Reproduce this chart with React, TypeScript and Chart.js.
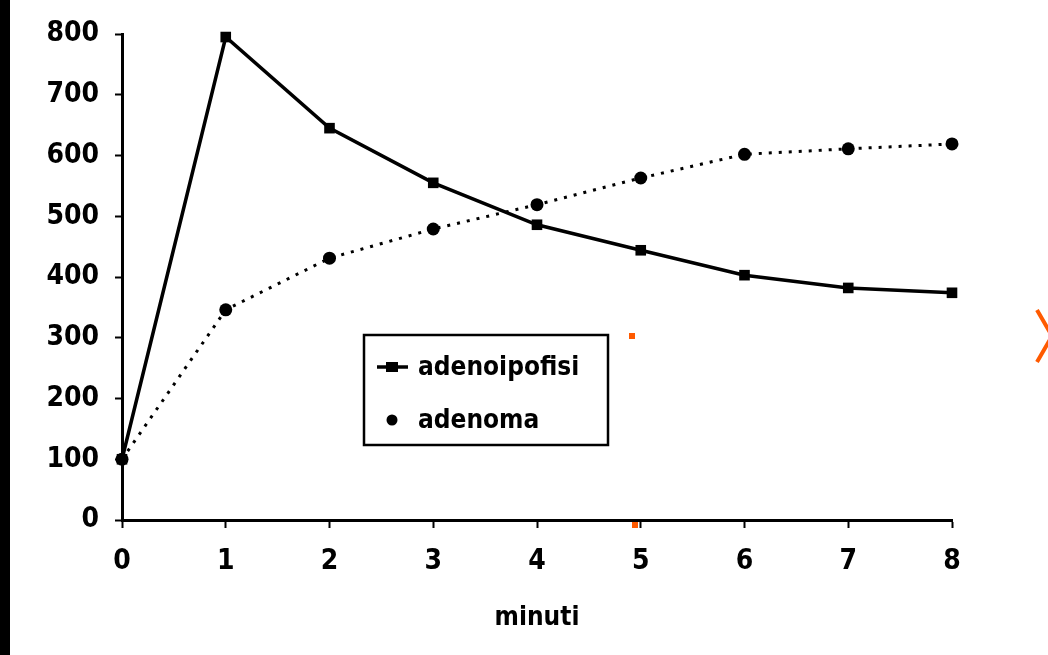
import React, { useEffect, useRef } from "react";
import { Chart, registerables } from "chart.js";

Chart.register(...registerables);

// ---- data ----
const categories = ["0", "1", "2", "3", "4", "5", "6", "7", "8"];
const adenoipofisiValues = [100, 795, 645, 555, 486, 444, 403, 382, 374];
const adenomaValues = [100, 346, 431, 479, 519, 563, 602, 611, 619];
const seriesLabels = ["adenoipofisi", "adenoma"];
const xAxisTitle = "minuti";
const yMin = 0;
const yMax = 800;
const yStep = 100;

const FONT = "'DejaVu Sans Condensed', 'Liberation Sans', sans-serif";

const frameDecor = {
  id: "frameDecor",
  beforeDraw(chart: any) {
    const ctx = chart.ctx;
    ctx.save();
    ctx.fillStyle = "#ffffff";
    ctx.fillRect(0, 0, chart.width, chart.height);
    ctx.fillStyle = "#000000";
    ctx.fillRect(0, 0, 10, chart.height);
    ctx.restore();
  },
  afterDraw(chart: any) {
    const ctx = chart.ctx;
    ctx.save();
    ctx.fillStyle = "#ff5a00";
    ctx.fillRect(629, 333, 6, 6);
    ctx.fillRect(632, 522, 6, 6);
    ctx.strokeStyle = "#ff5a00";
    ctx.lineWidth = 4;
    ctx.lineCap = "butt";
    ctx.beginPath();
    ctx.moveTo(1037, 310);
    ctx.lineTo(1052, 336);
    ctx.lineTo(1037, 362);
    ctx.stroke();
    ctx.restore();
  },
};

const boxLegend = {
  id: "boxLegend",
  afterDatasetsDraw(chart: any, _args: any, opts: any) {
    const ctx = chart.ctx;
    const { x, y, w, h } = opts;
    ctx.save();
    ctx.fillStyle = "#ffffff";
    ctx.fillRect(x, y, w, h);
    ctx.lineWidth = 2.5;
    ctx.strokeStyle = "#000000";
    ctx.strokeRect(x, y, w, h);
    ctx.font = "bold 26px " + FONT;
    ctx.textBaseline = "middle";
    ctx.textAlign = "left";
    chart.data.datasets.forEach((ds: any, i: number) => {
      const cy = y + 32 + i * 53;
      const mx = x + 28;
      ctx.fillStyle = "#000000";
      ctx.strokeStyle = "#000000";
      if (!ds.borderDash || ds.borderDash.length === 0) {
        ctx.lineWidth = 3.5;
        ctx.beginPath();
        ctx.moveTo(x + 13, cy);
        ctx.lineTo(x + 44, cy);
        ctx.stroke();
        ctx.fillRect(mx - 6, cy - 5, 12, 10);
      } else {
        ctx.beginPath();
        ctx.arc(mx, cy, 5.5, 0, Math.PI * 2);
        ctx.fill();
      }
      ctx.fillText(ds.label, x + 54, cy + 1);
    });
    ctx.restore();
  },
};

export default function App() {
  const ref = useRef<HTMLCanvasElement | null>(null);
  useEffect(() => {
    if (!ref.current) return;
    const chart = new Chart(ref.current, {
      type: "line",
      data: {
        labels: categories,
        datasets: [
          {
            label: seriesLabels[0],
            data: adenoipofisiValues,
            borderColor: "#000000",
            backgroundColor: "#000000",
            borderWidth: 3.5,
            pointStyle: "rect",
            pointRadius: 7.5,
            pointBorderWidth: 0,
            tension: 0,
            clip: false,
          },
          {
            label: seriesLabels[1],
            data: adenomaValues,
            borderColor: "#000000",
            backgroundColor: "#000000",
            borderWidth: 3,
            borderDash: [3, 7],
            pointStyle: "circle",
            pointRadius: 6.5,
            pointBorderWidth: 0,
            tension: 0,
            clip: false,
          },
        ],
      },
      options: {
        responsive: false,
        animation: false,
        layout: { padding: { left: 0, right: 96, top: 34, bottom: 0 } },
        plugins: {
          legend: { display: false },
          tooltip: { enabled: false },
          boxLegend: { x: 364, y: 335, w: 244, h: 110 },
        } as any,
        scales: {
          x: {
            type: "category",
            offset: false,
            grid: {
              drawOnChartArea: false,
              drawTicks: true,
              tickLength: 8,
              tickColor: "#000000",
              tickWidth: 2,
            },
            border: { display: true, color: "#000000", width: 3 },
            ticks: {
              color: "#000000",
              padding: 17,
              maxRotation: 0,
              font: { family: FONT, size: 28, weight: "bold" },
            },
            title: {
              display: true,
              text: xAxisTitle,
              color: "#000000",
              font: { family: FONT, size: 26, weight: "bold" },
              padding: { top: 0, bottom: 21 },
            },
            afterFit(scale: any) {
              scale.height = 135;
            },
          },
          y: {
            type: "linear",
            min: yMin,
            max: yMax,
            grid: {
              drawOnChartArea: false,
              drawTicks: true,
              tickLength: 7,
              tickColor: "#000000",
              tickWidth: 2,
            },
            border: { display: true, color: "#000000", width: 3 },
            ticks: {
              stepSize: yStep,
              color: "#000000",
              padding: 16,
              font: { family: FONT, size: 28, weight: "bold" },
            },
            afterFit(scale: any) {
              scale.width = 122;
            },
          },
        },
      },
      plugins: [frameDecor, boxLegend],
    });
    return () => chart.destroy();
  }, []);
  return (
    <canvas
      ref={ref}
      width={1048}
      height={655}
      style={{ position: "absolute", left: 0, top: 0, width: 1048, height: 655 }}
    />
  );
}
